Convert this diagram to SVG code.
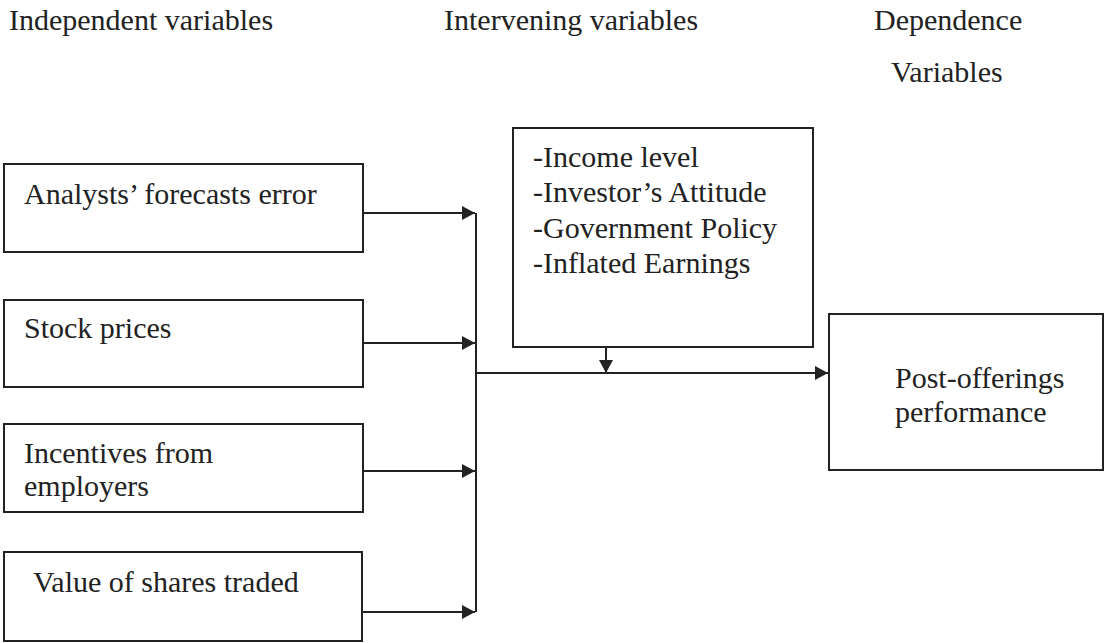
<svg xmlns="http://www.w3.org/2000/svg" width="1105" height="643" viewBox="0 0 1105 643">
<style>
  text { font-family: "Liberation Serif", "Times New Roman", serif; font-size: 30px; fill: #222; }
  .box { fill: #fff; stroke: #222; stroke-width: 2; }
  .ln { fill: none; stroke: #222; stroke-width: 2; }
</style>
<defs>
  <marker id="arr" markerUnits="userSpaceOnUse" markerWidth="14" markerHeight="14" refX="13" refY="7" orient="auto">
    <path d="M0,0 L13,7 L0,14 Z" fill="#222"/>
  </marker>
</defs>
<rect width="1105" height="643" fill="#fff"/>
<g id="headers">
  <text x="9" y="30">Independent variables</text>
  <text x="444" y="30">Intervening variables</text>
  <text x="874" y="30">Dependence</text>
  <text x="891" y="82">Variables</text>
</g>
<g id="node-analysts">
  <rect class="box" x="4" y="164" width="359" height="88"/>
  <text x="24" y="204">Analysts’ forecasts error</text>
</g>
<g id="node-stock">
  <rect class="box" x="4" y="300" width="359" height="87"/>
  <text x="24" y="338">Stock prices</text>
</g>
<g id="node-incentives">
  <rect class="box" x="4" y="424" width="359" height="88"/>
  <text x="24" y="463">Incentives from</text>
  <text x="24" y="496">employers</text>
</g>
<g id="node-value">
  <rect class="box" x="4" y="552" width="358" height="89"/>
  <text x="33" y="592">Value of shares traded</text>
</g>
<g id="node-intervening">
  <rect class="box" x="513" y="128" width="300" height="219"/>
  <text x="533" y="167">-Income level</text>
  <text x="533" y="202">-Investor’s Attitude</text>
  <text x="533" y="238">-Government Policy</text>
  <text x="533" y="273">-Inflated Earnings</text>
</g>
<g id="node-post">
  <rect class="box" x="829" y="314" width="274" height="156"/>
  <text x="895" y="388">Post-offerings</text>
  <text x="895" y="422">performance</text>
</g>
<g id="connectors">
  <line class="ln" x1="363" y1="213" x2="475" y2="213" marker-end="url(#arr)"/>
  <line class="ln" x1="363" y1="343" x2="475" y2="343" marker-end="url(#arr)"/>
  <line class="ln" x1="363" y1="471" x2="475" y2="471" marker-end="url(#arr)"/>
  <line class="ln" x1="362" y1="612" x2="475" y2="612" marker-end="url(#arr)"/>
  <line class="ln" x1="476" y1="213" x2="476" y2="612"/>
  <line class="ln" x1="476" y1="373" x2="828" y2="373" marker-end="url(#arr)"/>
  <line class="ln" x1="606" y1="347" x2="606" y2="373" marker-end="url(#arr)"/>
</g>
</svg>
